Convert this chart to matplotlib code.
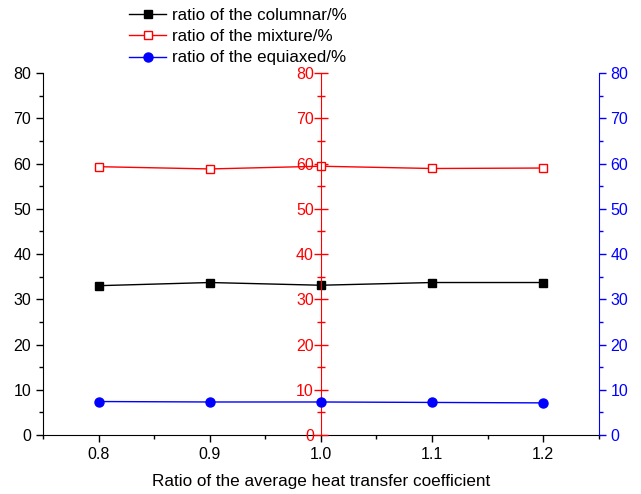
import matplotlib
matplotlib.use("Agg")
import matplotlib.pyplot as plt
from matplotlib.ticker import MultipleLocator

plt.rcParams["font.family"] = ["Liberation Sans", "DejaVu Sans"]

ratio = [0.8, 0.9, 1.0, 1.1, 1.2]
columnar = [33.0, 33.7, 33.1, 33.7, 33.7]
mixture = [59.3, 58.8, 59.4, 58.9, 59.0]
equiaxed = [7.4, 7.3, 7.3, 7.2, 7.1]

fig = plt.figure(figsize=(6.41, 4.94), dpi=100)
ax = fig.add_axes([0.067, 0.1194, 0.867, 0.7328])
ax2 = ax.twinx()
ax3 = ax.twinx()

l1, = ax.plot(ratio, columnar, color="black", marker="s", markersize=5.5, lw=1,
              label="ratio of the columnar/%")
l2, = ax2.plot(ratio, mixture, color="red", marker="s", markersize=6, lw=1,
               markerfacecolor="white", label="ratio of the mixture/%")
l3, = ax3.plot(ratio, equiaxed, color="blue", marker="o", markersize=6.5, lw=1,
               label="ratio of the equiaxed/%")

ax.set_xlim(0.75, 1.25)
for a in (ax, ax2, ax3):
    a.set_ylim(0, 80)
    a.yaxis.set_major_locator(MultipleLocator(10))
    a.yaxis.set_minor_locator(MultipleLocator(5))
    a.spines["top"].set_visible(False)

ax.xaxis.set_major_locator(MultipleLocator(0.1))
ax.xaxis.set_minor_locator(MultipleLocator(0.05))
ax.spines["right"].set_visible(False)
ax.tick_params(which="major", length=5, width=1, labelsize=11.5, colors="black")
ax.tick_params(which="minor", length=3, width=1)
ax.xaxis.set_major_formatter(plt.FuncFormatter(lambda v, p: f"{v:.1f}"))
ax.set_xlabel("Ratio of the average heat transfer coefficient", fontsize=12.3, labelpad=9)

# middle red axis at x = 1.0
ax2.spines["right"].set_visible(False)
ax2.spines["bottom"].set_visible(False)
ax2.spines["left"].set_visible(True)
ax2.spines["left"].set_position(("data", 1.0))
ax2.spines["left"].set_color("red")
ax2.yaxis.set_ticks_position("left")
ax2.yaxis.set_label_position("left")
ax2.tick_params(axis="y", which="major", direction="inout", length=10, width=1,
                colors="red", labelsize=11.5, pad=0)
ax2.tick_params(axis="y", which="minor", direction="inout", length=6, width=1, colors="red")

# right blue axis
ax3.spines["left"].set_visible(False)
ax3.spines["bottom"].set_visible(False)
ax3.spines["right"].set_color("blue")
ax3.tick_params(axis="y", which="major", length=5, width=1, colors="blue", labelsize=11.5)
ax3.tick_params(axis="y", which="minor", length=3, width=1, colors="blue")

for a in (ax, ax2, ax3):
    a.patch.set_visible(False)

fig.legend(handles=[l1, l2, l3], loc="upper left", bbox_to_anchor=(0.191, 0.997),
           frameon=False, fontsize=12.2, handlelength=2.2, handletextpad=0.35,
           labelspacing=0.36, borderaxespad=0)

fig.savefig("out.png", dpi=100)
